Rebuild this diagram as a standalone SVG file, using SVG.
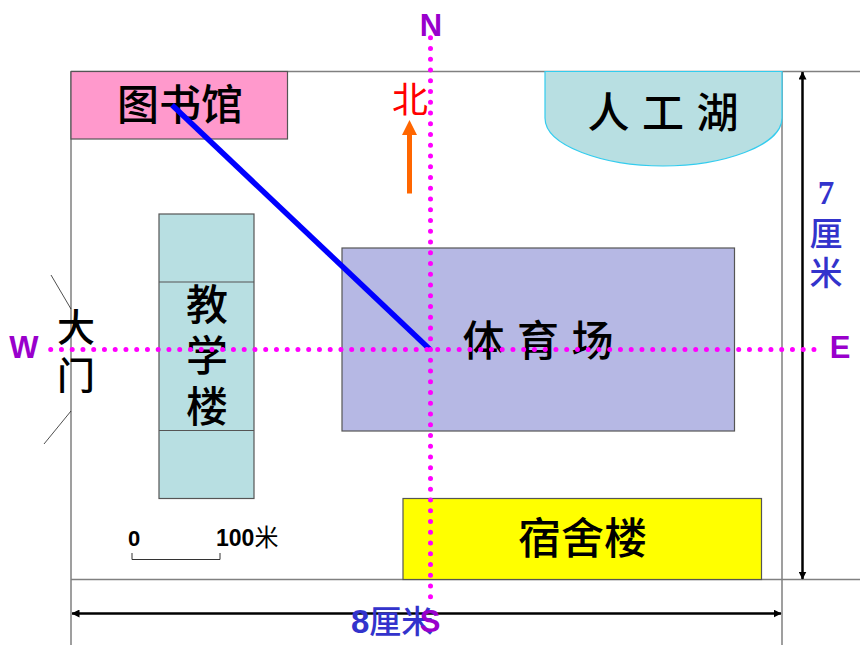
<svg xmlns="http://www.w3.org/2000/svg" width="860" height="645" viewBox="0 0 860 645">
<style>
text{font-family:"Liberation Serif","Noto Sans CJK SC",serif;fill:#000}
.cn{font-family:"Noto Sans CJK SC",sans-serif;font-size:42px;text-anchor:middle}
.dir{font-family:"Liberation Sans",sans-serif;font-weight:bold;font-size:31px;fill:#9900cc;text-anchor:middle}
.blue{font-family:"Liberation Sans","Noto Sans CJK SC",sans-serif;fill:#3333cc;font-size:33px;text-anchor:middle}
.frame{stroke:#808080;stroke-width:1.5;fill:none}
.box{stroke:#555;stroke-width:1.2}
.dots{stroke:#ff00ff;stroke-width:5;stroke-linecap:round;stroke-dasharray:0 10.75;fill:none}
.dim{stroke:#000;stroke-width:2.5;fill:none;marker-start:url(#ah);marker-end:url(#ah)}
.thin{stroke:#222;stroke-width:.8;fill:none}
</style>
<defs>
<marker id="ah" viewBox="0 0 8 8" refX="7.5" refY="4" markerUnits="userSpaceOnUse" markerWidth="8" markerHeight="8" orient="auto-start-reverse"><path d="M0 0L8 4L0 8Z" fill="#000"/></marker>
</defs>
<rect width="860" height="645" fill="#fff"/>
<g id="frame">
<path class="frame" d="M71 71.5H860M71 71.5V645M71 579.5H860M782 71.5V645"/>
</g>
<g id="library"><rect class="box" x="71" y="71.5" width="216.500" height="67.500" fill="#ff99cc"/><text class="cn" x="180" y="120" style="font-weight:500">图书馆</text></g>
<g id="lake"><path d="M545 71.500H782V118C782 146 722 166 663 166C604 166 545 146 545 118Z" fill="#b8dfe2" stroke="#33ccee" stroke-width="1.200"/><text class="cn" x="663" y="128" word-spacing="3" xml:space="preserve" style="font-weight:500">人 工 湖</text></g>
<g id="teaching"><rect class="box" x="159" y="214" width="95" height="284.500" fill="#b8dfe2"/><path class="box" fill="none" d="M159 282H254M159 430.500H254"/><text class="cn" x="207" y="320" style="font-weight:500">教</text><text class="cn" x="207" y="371" style="font-weight:500">学</text><text class="cn" x="207" y="422" style="font-weight:500">楼</text></g>
<g id="stadium"><rect class="box" x="342" y="248" width="392.500" height="183" fill="#b6b8e4"/><text class="cn" x="538" y="356" word-spacing="3" xml:space="preserve" style="font-weight:500">体 育 场</text></g>
<g id="dorm"><rect class="box" x="403" y="498.500" width="358.500" height="81" fill="#ffff00"/><text class="cn" x="582.500" y="554" style="font-size:43px;font-weight:500">宿舍楼</text></g>
<g id="gate"><path class="thin" d="M51 275L71 309M71 411L44 444"/><text class="cn" x="76" y="341" style="font-size:38px;font-weight:500">大</text><text class="cn" x="76" y="389" style="font-size:38px;font-weight:500">门</text></g>
<g id="north"><text class="cn" x="410" y="113" style="font-size:36px;fill:#ff0000">北</text><path d="M407 193.500V135H402L409.500 120L417 135H412V193.500Z" fill="#ff6600"/></g>
<g id="scale"><text x="134" y="546" style="font-family:'Liberation Sans',sans-serif;font-weight:bold;font-size:22px" text-anchor="middle">0</text><text x="216" y="546" style="font-family:'Liberation Sans',sans-serif;font-weight:bold;font-size:23px">100<tspan style="font-family:'Noto Sans CJK SC',sans-serif;font-weight:400;font-size:24px">米</tspan></text><path d="M132 553V559.500H220V553" fill="none" stroke="#333" stroke-width="1"/></g>
<g id="connectors">
<path d="M172 105L430 349.500" stroke="#0000ff" stroke-width="5.500" fill="none"/>
<path class="dim" d="M802.500 72V579"/>
<path class="dim" d="M72 613.500H781"/>
<path class="dots" d="M50.700 349.500H816"/>
<path class="dots" d="M430.500 37.700V600"/>
</g>
<g id="labels">
<text class="dir" x="431" y="36">N</text>
<text class="dir" x="24" y="358">W</text>
<text class="dir" x="840" y="358">E</text>
<text class="blue" x="826" y="204" style="font-family:'Liberation Serif',serif;font-weight:bold">7</text>
<text class="blue" x="826" y="246" style="font-weight:500">厘</text>
<text class="blue" x="826" y="285" style="font-weight:500">米</text>
<text class="blue" x="351" y="633" style="text-anchor:start"><tspan style="font-weight:bold">8</tspan><tspan style="font-size:32px;font-weight:500">厘米</tspan></text>
<text class="dir" x="430" y="632">S</text>
</g>
</svg>
